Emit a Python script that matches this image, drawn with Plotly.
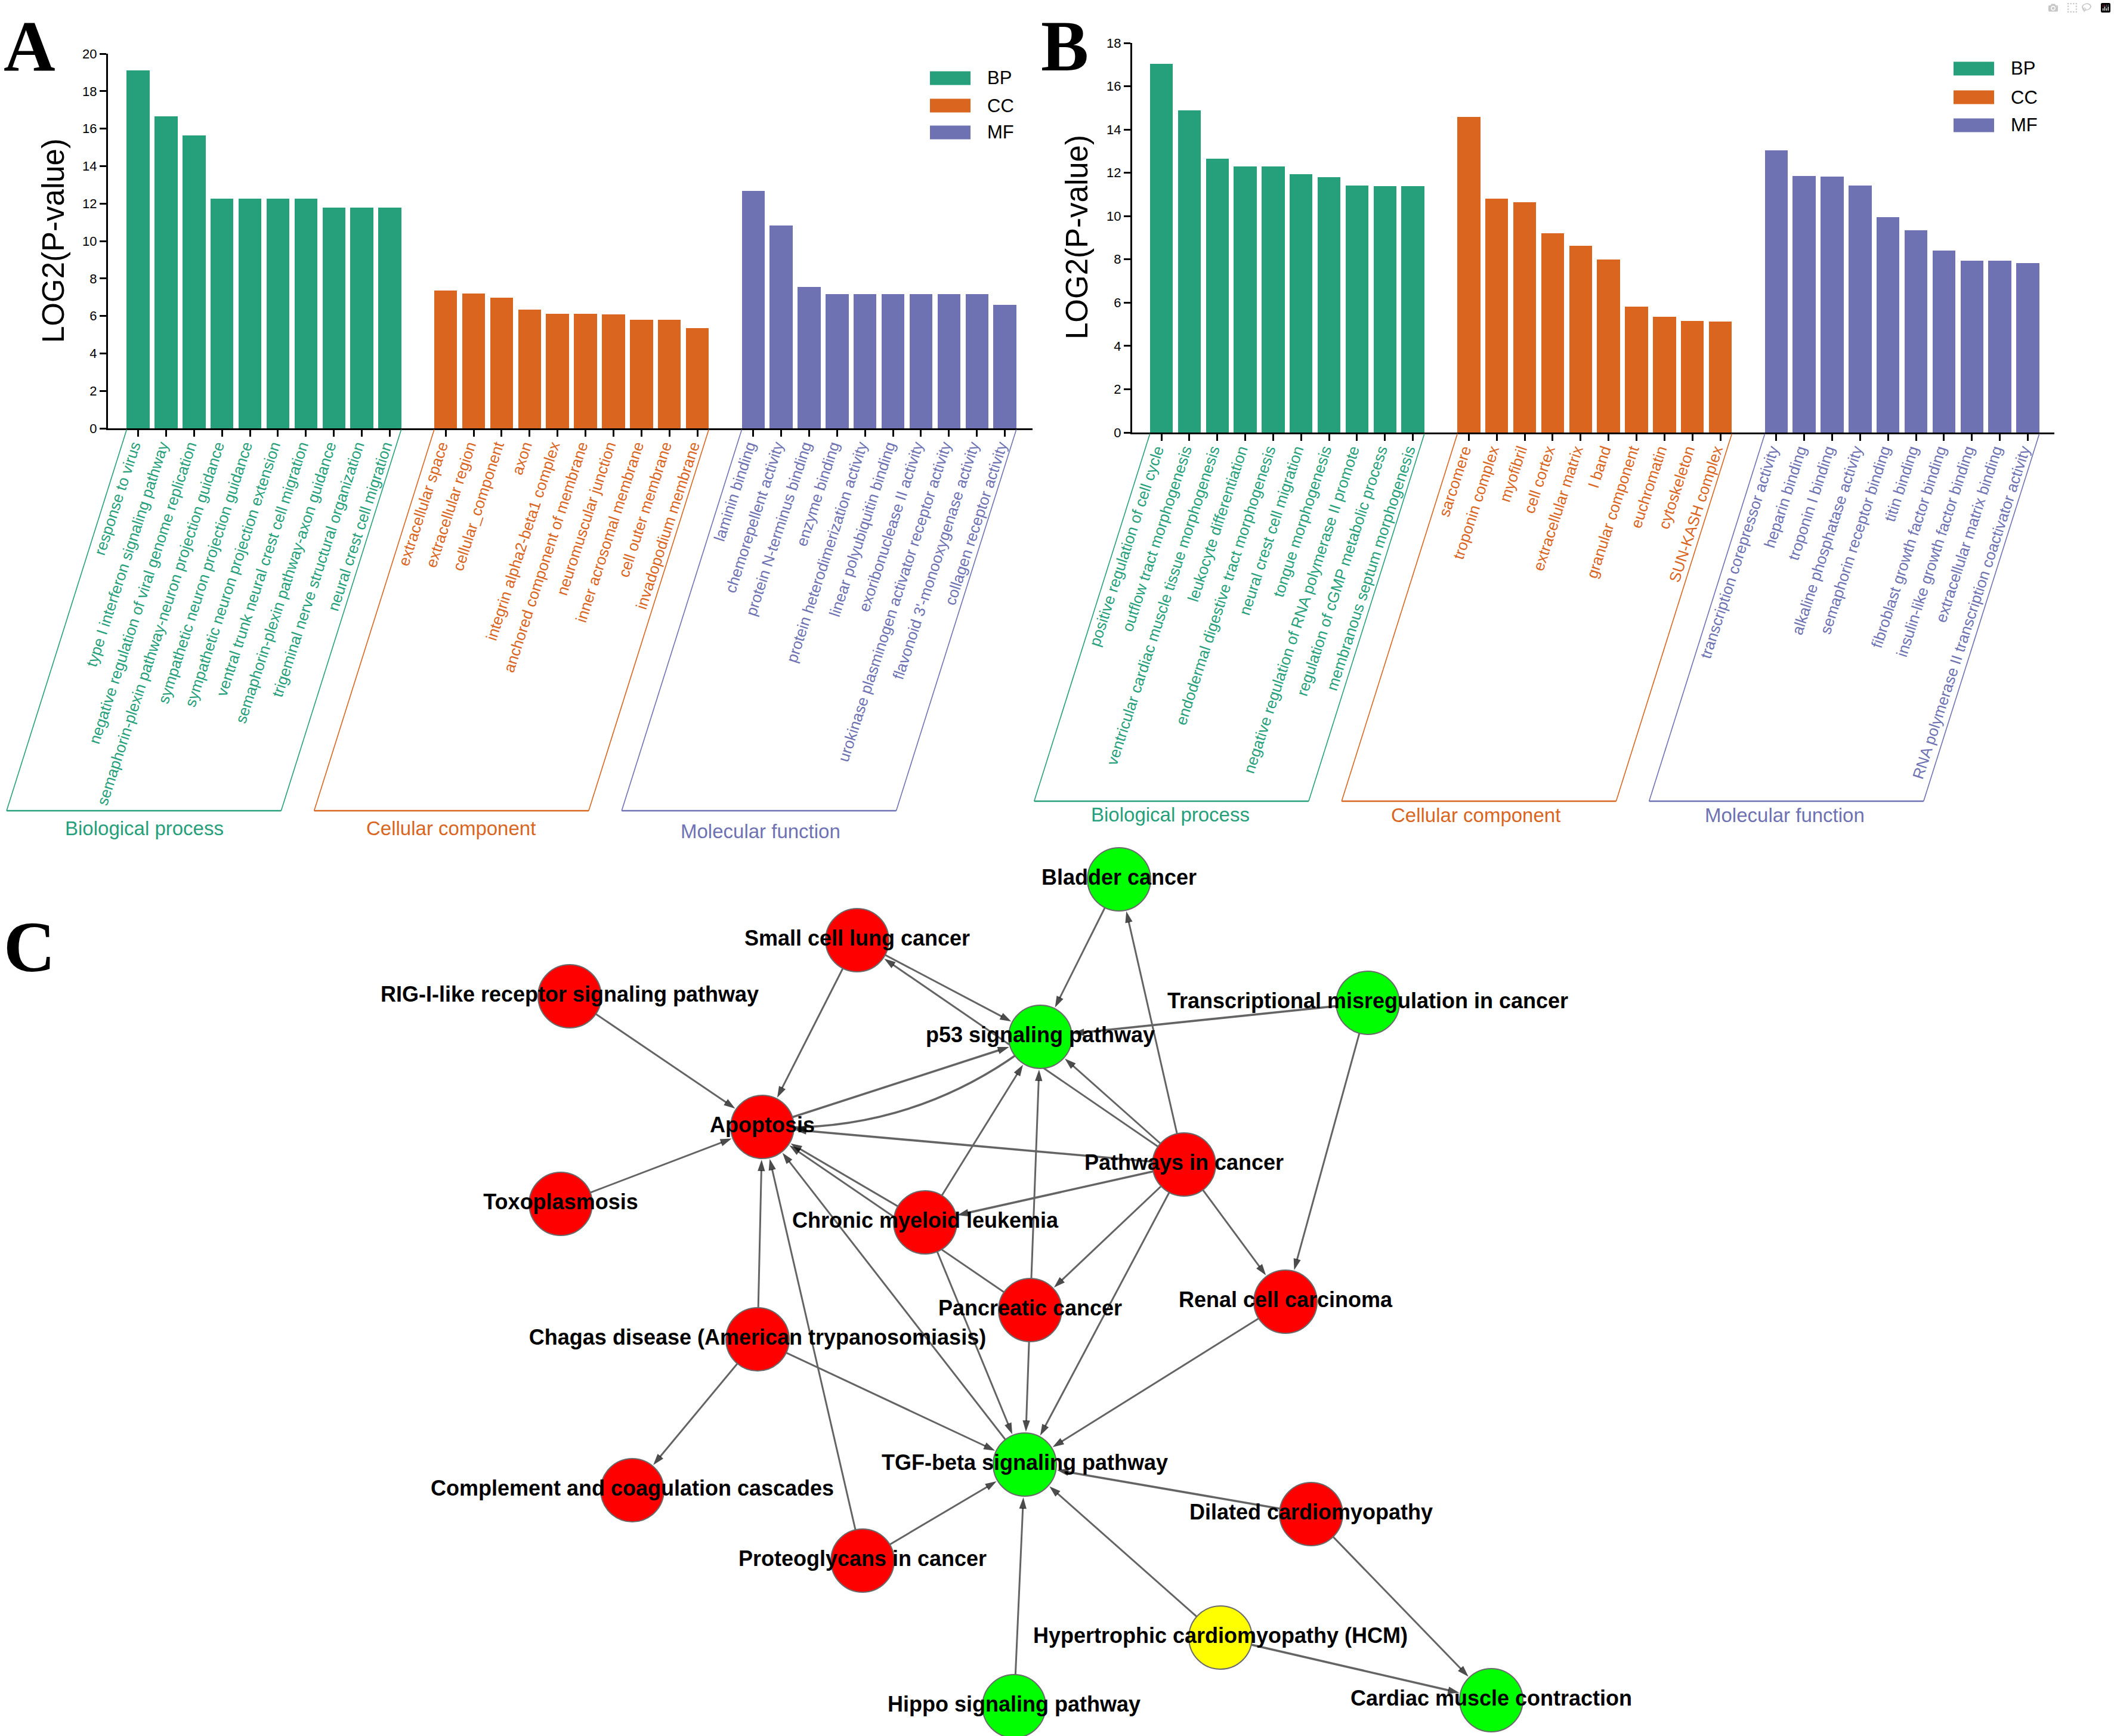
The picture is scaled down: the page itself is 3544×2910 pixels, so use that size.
import math
import plotly.graph_objects as go

W, H = 3544, 2910


def fx(x):
    return x / W


def fy(y):
    return 1 - y / H


GREEN, ORANGE, PURPLE = "#26A07B", "#D9651F", "#6E72B2"
SANS = "Liberation Sans, Arial, sans-serif"
SERIF = "Liberation Serif, Times New Roman, serif"

# ---------------- Panel A data ----------------
a_bp_terms = ["response to virus", "type I interferon signaling pathway",
              "negative regulation of viral genome replication",
              "semaphorin-plexin pathway-neuron projection guidance",
              "sympathetic neuron projection guidance",
              "sympathetic neuron projection extension",
              "ventral trunk neural crest cell migration",
              "semaphorin-plexin pathway-axon guidance",
              "trigeminal nerve structural organization",
              "neural crest cell migration"]
a_bp_vals = [19.1, 16.65, 15.64, 12.27, 12.27, 12.27, 12.27, 11.78, 11.78, 11.78]
a_cc_terms = ["extracellular space", "extracellular region", "cellular_component", "axon",
              "integrin alpha2-beta1 complex", "anchored component of membrane",
              "neuromuscular junction", "inner acrosomal membrane", "cell outer membrane",
              "invadopodium membrane"]
a_cc_vals = [7.36, 7.21, 6.97, 6.34, 6.13, 6.13, 6.07, 5.81, 5.81, 5.34]
a_mf_terms = ["laminin binding", "chemorepellent activity", "protein N-terminus binding",
              "enzyme binding", "protein heterodimerization activity",
              "linear polyubiquitin binding", "exoribonuclease II activity",
              "urokinase plasminogen activator receptor activity",
              "flavonoid 3'-monooxygenase activity", "collagen receptor activity"]
a_mf_vals = [12.68, 10.82, 7.56, 7.18, 7.15, 7.15, 7.15, 7.15, 7.15, 6.59]

# ---------------- Panel B data ----------------
b_bp_terms = ["positive regulation of cell cycle", "outflow tract morphogenesis",
              "ventricular cardiac muscle tissue morphogenesis", "leukocyte differentiation",
              "endodermal digestive tract morphogenesis", "neural crest cell migration",
              "tongue morphogenesis", "negative regulation of RNA polymerase II promote",
              "regulation of cGMP metabolic process", "membranous septum morphogenesis"]
b_bp_vals = [17.04, 14.88, 12.65, 12.29, 12.29, 11.93, 11.79, 11.42, 11.38, 11.38]
b_cc_terms = ["sarcomere", "troponin complex", "myofibril", "cell cortex",
              "extracellular matrix", "I band", "granular component", "euchromatin",
              "cytoskeleton", "SUN-KASH complex"]
b_cc_vals = [14.59, 10.80, 10.63, 9.22, 8.64, 7.99, 5.82, 5.34, 5.16, 5.14]
b_mf_terms = ["transcription corepressor activity", "heparin binding", "troponin I binding",
              "alkaline phosphatase activity", "semaphorin receptor binding", "titin binding",
              "fibroblast growth factor binding", "insulin-like growth factor binding",
              "extracellular matrix binding", "RNA polymerase II transcription coactivator activity"]
b_mf_vals = [13.04, 11.84, 11.82, 11.41, 9.94, 9.34, 8.41, 7.93, 7.93, 7.82]

group_names = ["Biological process", "Cellular component", "Molecular function"]
legend_names = ["BP", "CC", "MF"]
group_colors = [GREEN, ORANGE, PURPLE]

# ---------------- Panel C data ----------------
node_names = ["Bladder cancer", "Small cell lung cancer", "RIG-I-like receptor signaling pathway",
              "Transcriptional misregulation in cancer", "p53 signaling pathway", "Apoptosis",
              "Pathways in cancer", "Toxoplasmosis", "Chronic myeloid leukemia",
              "Pancreatic cancer", "Renal cell carcinoma",
              "Chagas disease (American trypanosomiasis)", "TGF-beta signaling pathway",
              "Complement and coagulation cascades", "Dilated cardiomyopathy",
              "Proteoglycans in cancer", "Hypertrophic cardiomyopathy (HCM)",
              "Hippo signaling pathway", "Cardiac muscle contraction"]
node_x = [1876, 1437, 955, 2293, 1744, 1278, 1985, 940, 1551, 1727, 2155, 1270, 1718,
          1060, 2198, 1446, 2046, 1700, 2500]
node_y = [1474, 1576, 1670, 1681, 1738, 1889, 1952, 2018, 2049, 2196, 2182, 2245, 2455,
          2498, 2538, 2616, 2745, 2860, 2850]
node_colors = ["#00FF00", "#FF0000", "#FF0000", "#00FF00", "#00FF00", "#FF0000", "#FF0000",
               "#FF0000", "#FF0000", "#FF0000", "#FF0000", "#FF0000", "#00FF00", "#FF0000",
               "#FF0000", "#FF0000", "#FFFF00", "#00FF00", "#00FF00"]
edge_source = ["Bladder cancer", "Pathways in cancer", "Small cell lung cancer",
               "Pathways in cancer", "Small cell lung cancer",
               "RIG-I-like receptor signaling pathway",
               "Transcriptional misregulation in cancer",
               "Transcriptional misregulation in cancer", "Apoptosis",
               "Pathways in cancer", "Pathways in cancer", "Pathways in cancer",
               "Pathways in cancer", "Pathways in cancer", "Pathways in cancer",
               "Toxoplasmosis", "Chronic myeloid leukemia", "Chronic myeloid leukemia",
               "Chronic myeloid leukemia", "Pancreatic cancer", "Pancreatic cancer",
               "Pancreatic cancer", "TGF-beta signaling pathway",
               "Chagas disease (American trypanosomiasis)",
               "Chagas disease (American trypanosomiasis)",
               "Chagas disease (American trypanosomiasis)", "Proteoglycans in cancer",
               "Proteoglycans in cancer", "Dilated cardiomyopathy", "Dilated cardiomyopathy",
               "Hypertrophic cardiomyopathy (HCM)", "Hypertrophic cardiomyopathy (HCM)",
               "Hippo signaling pathway", "Renal cell carcinoma"]
edge_target = ["p53 signaling pathway", "Bladder cancer", "p53 signaling pathway",
               "Small cell lung cancer", "Apoptosis", "Apoptosis", "p53 signaling pathway",
               "Renal cell carcinoma", "p53 signaling pathway", "Apoptosis",
               "p53 signaling pathway", "Chronic myeloid leukemia", "Pancreatic cancer",
               "Renal cell carcinoma", "TGF-beta signaling pathway", "Apoptosis",
               "p53 signaling pathway", "Apoptosis", "TGF-beta signaling pathway",
               "p53 signaling pathway", "Apoptosis", "TGF-beta signaling pathway",
               "Apoptosis", "Apoptosis", "TGF-beta signaling pathway",
               "Complement and coagulation cascades", "Apoptosis",
               "TGF-beta signaling pathway", "TGF-beta signaling pathway",
               "Cardiac muscle contraction", "TGF-beta signaling pathway",
               "Cardiac muscle contraction", "TGF-beta signaling pathway",
               "TGF-beta signaling pathway"]
edge_width = [3, 3, 3, 3, 3, 3, 3.6, 3, 3.6, 3.6, 3, 3.6, 3, 3, 3, 3, 3, 3, 3, 3, 3, 3, 3,
              3, 3, 3, 3, 3, 3.6, 3, 3, 3.6, 3, 3]
curved_source = ["p53 signaling pathway"]
curved_target = ["Apoptosis"]

fig = go.Figure()

# ---------------- bar panels ----------------
pos_groups = [list(range(0, 10)), list(range(11, 21)), list(range(22, 32))]
panels = [
    dict(vals=[a_bp_vals, a_cc_vals, a_mf_vals], terms=[a_bp_terms, a_cc_terms, a_mf_terms],
         xa="x", ya="y", x0=181, x1=1731, ytop=90, ybot=718, rng=[-1.08, 31.99], ymax=20,
         px0=231.6, pitch=46.87, brb=1359, title_xy=(90, 404),
         glab=[(242, 1388), (756, 1388), (1275, 1393)],
         leg_x=1559, leg_y=[131, 177, 222]),
    dict(vals=[b_bp_vals, b_cc_vals, b_mf_vals], terms=[b_bp_terms, b_cc_terms, b_mf_terms],
         xa="x2", ya="y2", x0=1898, x1=3444, ytop=72, ybot=725, rng=[-1.046, 31.95], ymax=18,
         px0=1947, pitch=46.86, brb=1343, title_xy=(1806, 398),
         glab=[(1962, 1365), (2474, 1366), (2992, 1366)],
         leg_x=3275, leg_y=[115, 163, 210]),
]

shapes = []
annotations = []
BARW = 0.82
for k, p in enumerate(panels):
    tickvals, ticktext = [], []
    for g in range(3):
        fig.add_trace(go.Bar(x=pos_groups[g], y=p["vals"][g], width=BARW,
                             marker=dict(color=group_colors[g], line=dict(width=0)),
                             xaxis=p["xa"], yaxis=p["ya"], showlegend=False,
                             hoverinfo="skip"))
        tickvals += pos_groups[g]
        ticktext += ['<span style="color:%s">%s</span>' % (group_colors[g], t)
                     for t in p["terms"][g]]
        # bracket (parallelogram) under each group
        left = p["px0"] + p["pitch"] * (pos_groups[g][0] - BARW / 2)
        right = p["px0"] + p["pitch"] * (pos_groups[g][-1] + BARW / 2)
        top = p["ybot"] + 2
        dx = (p["brb"] - top) * 0.315
        for (xa_, ya_, xb_, yb_, lw) in [(left, top, left - dx, p["brb"], 1.6),
                                          (left - dx, p["brb"], right - dx, p["brb"], 2.6),
                                          (right - dx, p["brb"], right, top, 1.6)]:
            shapes.append(dict(type="line", xref="paper", yref="paper",
                               x0=fx(xa_), y0=fy(ya_), x1=fx(xb_), y1=fy(yb_),
                               line=dict(color=group_colors[g], width=lw)))
        gx, gy = p["glab"][g]
        annotations.append(dict(x=fx(gx), y=fy(gy), xref="paper", yref="paper",
                                text=group_names[g], showarrow=False, xanchor="center",
                                yanchor="middle",
                                font=dict(family=SANS, size=33, color=group_colors[g])))
        # legend
        ly = p["leg_y"][g]
        shapes.append(dict(type="rect", xref="paper", yref="paper",
                           x0=fx(p["leg_x"]), x1=fx(p["leg_x"] + 68),
                           y0=fy(ly - 11.5), y1=fy(ly + 11.5),
                           fillcolor=group_colors[g], line=dict(width=0)))
        annotations.append(dict(x=fx(p["leg_x"] + 94), y=fy(ly), xref="paper", yref="paper",
                                text=legend_names[g], showarrow=False, xanchor="left",
                                yanchor="middle",
                                font=dict(family=SANS, size=31, color="black")))
    sfx = "" if k == 0 else "2"
    fig.layout["xaxis" + sfx] = dict(
        domain=[fx(p["x0"]), fx(p["x1"])], range=p["rng"], anchor=p["ya"],
        tickmode="array", tickvals=tickvals, ticktext=ticktext, tickangle=-72,
        ticks="outside", ticklen=11, tickwidth=2.5, tickcolor="black",
        ticklabelshift=-8, ticklabelstandoff=-10,
        showline=True, linewidth=3, linecolor="black", showgrid=False, zeroline=False,
        tickfont=dict(family=SANS, size=26), automargin=False, fixedrange=True)
    fig.layout["yaxis" + sfx] = dict(
        domain=[fy(p["ybot"]), fy(p["ytop"])], range=[0, p["ymax"]], anchor=p["xa"],
        dtick=2, ticks="outside", ticklen=11, tickwidth=2.5, tickcolor="black",
        showline=True, linewidth=3, linecolor="black", showgrid=False, zeroline=False,
        tickfont=dict(family=SANS, size=22, color="black"), automargin=False,
        fixedrange=True)
    tx, ty = p["title_xy"]
    annotations.append(dict(x=fx(tx), y=fy(ty), xref="paper", yref="paper",
                            text="LOG2(P-value)", textangle=-90, showarrow=False,
                            xanchor="center", yanchor="middle",
                            font=dict(family=SANS, size=51, color="black")))

# ---------------- network panel ----------------
pos = {n: (x, y) for n, x, y in zip(node_names, node_x, node_y)}
EDGE = "#646464"
NODE_R = 55
for s, t, w in zip(edge_source, edge_target, edge_width):
    (xs, ys), (xt, yt) = pos[s], pos[t]
    fig.add_trace(go.Scatter(
        x=[xs, xt], y=[ys, yt], mode="lines+markers", xaxis="x3", yaxis="y3",
        line=dict(color=EDGE, width=w),
        marker=dict(symbol="arrow", size=[0, 20], color="black", angleref="previous",
                    standoff=[0, NODE_R], line=dict(width=0)),
        showlegend=False, hoverinfo="skip", cliponaxis=False))

for s, t in zip(curved_source, curved_target):
    (xs, ys), (xt, yt) = pos[s], pos[t]
    dxx, dyy = xt - xs, yt - ys
    L = math.hypot(dxx, dyy)
    bend = 0.19 * L
    cx = (xs + xt) / 2 + bend * dyy / L
    cy = (ys + yt) / 2 - bend * dxx / L
    shapes.append(dict(type="path", xref="x3", yref="y3", layer="below",
                       path="M %f,%f Q %f,%f %f,%f" % (xs, ys, cx, cy, xt, yt),
                       line=dict(color=EDGE, width=3.6)))
    fig.add_trace(go.Scatter(
        x=[cx, xt], y=[cy, yt], mode="markers", xaxis="x3", yaxis="y3",
        marker=dict(symbol="arrow", size=[0, 20], color="black", angleref="previous",
                    standoff=[0, NODE_R], line=dict(width=0)),
        showlegend=False, hoverinfo="skip", cliponaxis=False))

fig.add_trace(go.Scatter(
    x=node_x, y=node_y, mode="markers+text", text=node_names, textposition="middle center",
    xaxis="x3", yaxis="y3",
    marker=dict(size=106, color=node_colors, line=dict(color="#6A6A6A", width=2)),
    textfont=dict(family=SANS, size=36, color="black", weight="bold"),
    showlegend=False, hoverinfo="skip", cliponaxis=True))

fig.layout["xaxis3"] = dict(domain=[0, 1], range=[0, W], visible=False, anchor="y3",
                            fixedrange=True)
fig.layout["yaxis3"] = dict(domain=[0, fy(1400)], range=[H, 1400], visible=False,
                            anchor="x3", fixedrange=True)

# panel letters
for letter, lx, ly in [("A", 4, 77), ("B", 1743, 77), ("C", 4, 1588)]:
    annotations.append(dict(x=fx(lx), y=fy(ly), xref="paper", yref="paper",
                            text="<b>%s</b>" % letter, showarrow=False, xanchor="left",
                            yanchor="middle",
                            font=dict(family=SERIF, size=120, color="black")))

fig.update_layout(width=W, height=H, margin=dict(l=0, r=0, t=0, b=0, pad=0),
                  paper_bgcolor="white", plot_bgcolor="rgba(0,0,0,0)",
                  shapes=shapes, annotations=annotations, bargap=0, showlegend=False)

fig.write_html("out.html",
               post_script="document.body.style.margin='0px';"
                           "document.body.style.overflow='hidden';")
